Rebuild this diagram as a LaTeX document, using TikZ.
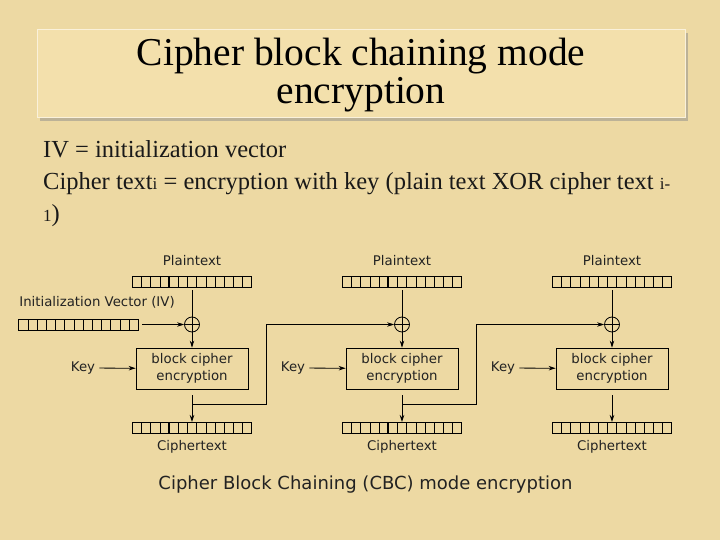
\documentclass[tikz,border=0pt]{standalone}
\usepackage{fontspec}
\setmainfont{Liberation Serif}
\newfontfamily\diagfont{DejaVu Sans}
\usetikzlibrary{arrows.meta}

\definecolor{parchment}{HTML}{EDD9A3}
\definecolor{titlefill}{HTML}{F3E0AC}
\definecolor{inkgray}{HTML}{222222}

\newcommand{\smallsub}[1]{{\fontsize{17}{17}\selectfont #1}}

% one register of 13 cells, with a few heavier dividers
\newcommand{\regcells}[2]{%
  \foreach \k in {1,...,12}
    \draw[line width=0.6pt] ([xshift=\k*9.2pt]#1.north west) -- ([xshift=\k*9.2pt]#1.south west);
  \foreach \k in {#2}
    \draw[line width=1.5pt] ([xshift=\k*9.2pt]#1.north west) -- ([xshift=\k*9.2pt]#1.south west);
}

\begin{document}
\begin{tikzpicture}[x=1pt, y=-1pt,
    regbox/.style={draw, line width=0.9pt, minimum width=119.6pt, minimum height=11pt,
      inner sep=0pt, outer sep=0pt},
    xorsym/.style={circle, draw, line width=0.8pt, minimum size=15pt, inner sep=0pt,
      path picture={\draw[line width=0.8pt] (path picture bounding box.north) -- (path picture bounding box.south)
        (path picture bounding box.west) -- (path picture bounding box.east);}},
    blockbox/.style={draw, line width=0.8pt, minimum width=112pt, minimum height=41pt,
      align=center, inner sep=0pt, font=\diagfont\fontsize{13.3}{17}\selectfont, text=inkgray},
    diaglbl/.style={font=\diagfont\fontsize{13.3}{16}\selectfont, text=inkgray, inner sep=0pt},
    flowline/.style={line width=0.8pt},
    flowarrow/.style={line width=0.8pt, -{Stealth[length=7pt, width=4.5pt]}},
    titleline/.style={font=\fontsize{39.5}{35}\selectfont, inner sep=0pt, anchor=base},
    bodyline/.style={font=\fontsize{24.5}{28}\selectfont, anchor=base west, inner sep=0pt, text=black!90}
  ]
  \useasboundingbox (0,0) rectangle (720,540);
  \fill[parchment] (0,0) rectangle (720,540);

  % title panel
  \fill[black!45, opacity=0.5] (40,33) rectangle (688,121);
  \filldraw[fill=titlefill, draw=white!55!titlefill, line width=1pt] (37,30) rectangle (685,118);
  \node[titleline] (title1) at (361,66) {Cipher block chaining mode};
  \node[titleline] (title2) at (361,104) {encryption};

  \node[bodyline] (line1) at (43,158) {IV = initialization vector};
  \node[bodyline] (line2) at (43,190) {Cipher text\smallsub{i} = encryption with key (plain text XOR cipher text \smallsub{i-}};
  \node[bodyline] (line3) at (43,222) {\smallsub{1})};

  % three encryption stages
  \foreach \i/\c/\ta/\tb in {1/192/4/12, 2/402/5/6, 3/612/7/7}{
    \node[diaglbl] (ptl\i) at (\c,261) {Plaintext};
    \node[regbox] (pt\i) at (\c,281.5) {};
    \regcells{pt\i}{\ta,\tb}
    \node[xorsym] (xor\i) at (\c,324.5) {};
    \node[blockbox] (blk\i) at (\c,368.5) {block cipher\\encryption};
    \node[diaglbl] (key\i) at (\c-109,368) {Key};
    \node[regbox] (ct\i) at (\c,427.5) {};
    \regcells{ct\i}{\ta,\tb}
    \node[diaglbl] (ctl\i) at (\c,447) {Ciphertext};
    \coordinate (j\i) at (\c,404);
    \coordinate (bend\i) at (\c+74,404);
    \draw[flowline, shorten <=3pt] (pt\i) -- (xor\i);
    \draw[flowarrow] (xor\i) -- (blk\i);
    \draw[flowarrow, shorten <=4pt] (key\i) -- (blk\i);
    \draw[flowarrow, shorten <=6pt] (blk\i) -- (ct\i);
  }

  % initialization vector
  \node[diaglbl] (ivl) at (97,302) {Initialization Vector (IV)};
  \node[regbox] (iv) at (78.5,324.5) {};
  \regcells{iv}{5}
  \draw[flowarrow, shorten <=4pt] (iv) -- (xor1);

  % chaining back into the next stage
  \draw[flowarrow] (j1) -- (bend1) |- (xor2);
  \draw[flowarrow] (j2) -- (bend2) |- (xor3);

  \node[font=\diagfont\fontsize{18}{20}\selectfont, text=inkgray, inner sep=0pt]
    (caption) at (365.5,485) {Cipher Block Chaining (CBC) mode encryption};
\end{tikzpicture}
\end{document}
